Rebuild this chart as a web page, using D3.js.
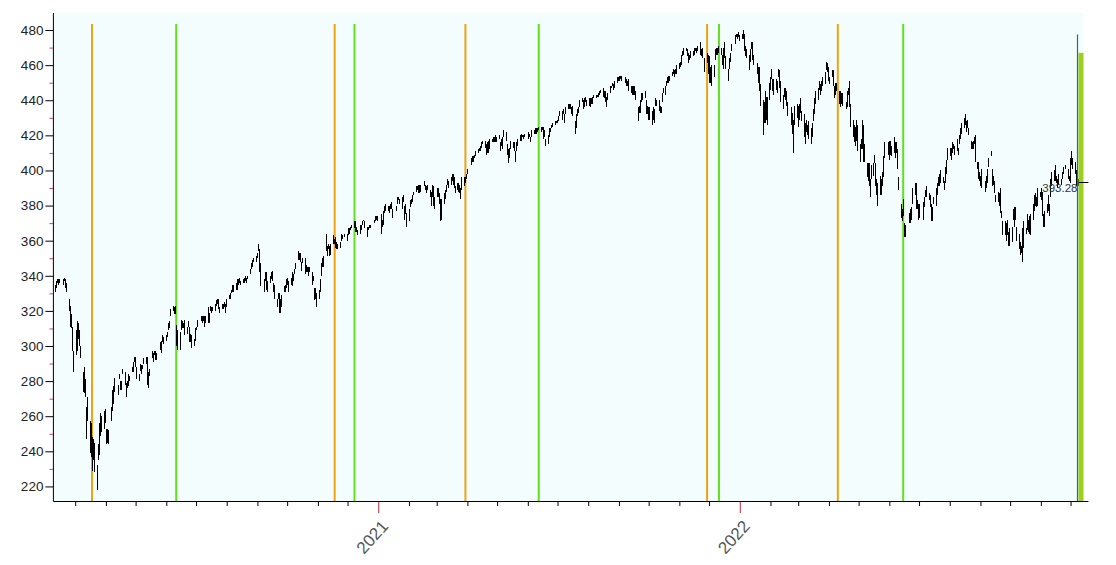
<!DOCTYPE html>
<html><head><meta charset="utf-8">
<script src="https://cdn.jsdelivr.net/npm/d3@7"></script>
<style>body{margin:0;background:#fff}svg{display:block}</style>
</head><body>
<svg id="chart" width="1116" height="565"></svg>
<script>
// Daily [low, high] bars, one line per month
const bars2020 = [
 [331,335],[333,337],[336,338],[335,338],[336,338],[335,338],[337,339],[333,338],[331,336],[320,327],[311,323],[310,318],[297,311],[285,297],
 [295,309],[297,314],[304,313],[300,309],[293,300],[274,285],[273,288],[271,281],[247,265],[257,271],[239,257],[237,256],[229,248],[235,247],[228,245],[218,232],[235,244],[238,256],[249,262],[251,260],[253,263],[256,264],
 [244,253],[245,253],[244,252],[257,265],[263,275],[267,277],[274,282],[272,278],[281,284],[275,280],[275,280],[284,287],[278,285],[271,279],[276,280],[277,284],[280,283],[285,288],[285,291],[291,294],[288,294],
 [281,288],[280,284],[286,290],[284,289],[287,289],[290,293],[290,294],[286,294],[278,288],[276,285],[283,287],[293,297],[291,296],[295,297],[292,297],[292,296],[298,302],[296,303],[302,306],[301,305],
 [303,306],[305,308],[309,313],[310,314],[317,321],[320,323],[318,322],[318,323],[300,312],[298,309],[298,308],[309,315],[310,314],[310,313],[306,315],[307,311],[311,314],[302,311],[302,307],[299,306],[300,304],[303,310],
 [309,311],[311,315],[314,317],[313,317],[314,317],[311,317],[313,317],[313,322],[313,319],[320,323],[319,322],[320,322],[320,324],[323,326],[324,327],[321,327],[319,322],[321,324],[321,324],[322,325],[319,324],[322,327],
 [327,329],[327,330],[330,332],[331,335],[331,335],[332,336],[332,338],[335,338],[336,339],[335,337],[336,338],[336,339],[337,340],[336,339],[338,340],[341,343],[341,344],[344,347],[345,349],[348,350],[348,351],
 [350,353],[354,358],[342,355],[334,347],[331,338],[337,342],[332,342],[331,337],[336,340],[338,342],[337,343],[331,336],[327,335],[322,327],[327,330],[319,330],[319,327],[322,329],[331,334],[331,335],[333,338],
 [335,339],[331,337],[335,339],[334,342],[337,341],[341,344],[344,347],[349,354],[349,353],[348,353],[343,348],[347,350],[341,350],[342,346],[342,345],[340,345],[342,345],[335,342],[337,340],[326,333],[327,333],[322,330],
 [327,332],[331,338],[340,347],[345,350],[345,351],[354,364],[351,357],[355,358],[351,357],[352,358],[358,363],[358,361],[356,362],[355,359],[355,358],[356,359],[360,364],[361,363],[362,364],[360,364],
 [363,367],[364,367],[366,368],[367,369],[368,370],[367,371],[365,371],[365,368],[363,366],[364,369],[366,369],[369,371],[371,372],[367,371],[362,368],[366,368],[367,369],[367,369],[370,372],[371,374],[372,374],[371,374]
];
const bars2021 = [
 [364,375],[368,372],[369,377],[376,380],[377,381],[377,380],[376,380],[378,381],[378,382],[373,378],[377,380],[381,385],[383,385],[381,384],[378,385],[382,386],[372,380],[375,381],[368,376],
 [371,378],[379,383],[381,384],[382,386],[386,388],[388,391],[389,391],[387,392],[387,392],[388,392],[391,394],[389,392],[387,391],[389,392],[385,389],[380,388],[385,392],[380,391],[378,385],
 [385,390],[385,390],[381,387],[371,384],[372,384],[381,387],[384,389],[388,392],[392,395],[390,394],[392,396],[394,398],[392,398],[390,396],[387,391],[389,393],[388,393],[387,392],[384,390],[389,396],[391,396],[393,396],[395,398],
 [398,401],[403,407],[405,408],[405,408],[407,409],[408,411],[410,412],[411,413],[411,414],[413,416],[415,417],[413,417],[409,415],[410,416],[410,417],[412,418],[416,418],[416,419],[416,419],[416,420],[416,419],
 [418,420],[411,416],[414,418],[412,419],[419,423],[417,422],[409,415],[404,412],[407,413],[412,417],[413,416],[411,416],[405,411],[411,416],[414,418],[417,420],[417,421],[419,420],[418,420],[419,421],
 [418,422],[419,421],[416,419],[419,423],[421,423],[421,424],[421,424],[422,424],[423,425],[422,425],[423,425],[418,425],[419,423],[414,418],[415,420],[419,424],[422,424],[424,426],[425,427],[426,428],[427,428],[427,429],
 [428,431],[431,434],[429,434],[432,435],[427,432],[432,436],[435,438],[435,438],[435,438],[432,436],[431,437],[421,428],[424,432],[431,435],[433,436],[436,440],[439,441],[435,440],[436,441],[439,442],[437,440],
 [437,441],[436,441],[438,441],[438,442],[441,443],[441,443],[442,443],[442,444],[443,445],[444,446],[442,447],[441,445],[439,445],[436,442],[440,444],[444,448],[447,448],[448,450],[446,449],[447,451],[450,453],[451,453],
 [451,454],[452,454],[451,454],[450,453],[448,452],[448,451],[445,452],[444,448],[443,448],[443,448],[443,448],[440,445],[428,436],[433,437],[433,440],[439,444],[440,444],[441,445],[432,440],[432,437],[429,436],
 [429,436],[426,434],[429,436],[427,435],[437,441],[437,440],[434,440],[433,437],[433,436],[439,444],[444,447],[443,448],[448,451],[450,453],[450,454],[451,454],[454,456],[455,458],[453,457],[455,458],[455,460],
 [458,461],[459,462],[460,466],[465,468],[466,470],[468,470],[465,469],[461,467],[463,466],[464,468],[465,468],[466,470],[468,470],[467,470],[468,471],[466,473],[465,469],[464,470],[456,464],[461,467],[455,466],
 [450,465],[450,459],[448,460],[453,460],[463,469],[466,470],[466,470],[467,471],[466,470],[460,466],[458,470],[464,473],[458,465],[451,458],[458,464],[462,467],[468,472],[472,477],[476,478],[475,478],[476,479],[474,477]
];
const bars2022 = [
 [475,478],[475,480],[468,478],[465,471],[464,469],[457,466],[462,469],[469,473],[463,473],[460,466],[455,461],[450,459],[445,459],[437,449],[420,440],[427,439],[427,445],[429,442],[426,442],[440,450],
 [446,453],[452,458],[445,452],[443,452],[446,452],[444,451],[453,458],[447,457],[439,451],[435,443],[442,447],[440,447],[437,445],[431,439],[426,436],[421,433],[410,429],[426,437],[430,438],
 [425,437],[429,438],[433,441],[428,434],[419,432],[415,427],[422,429],[420,426],[418,428],[415,424],[419,427],[428,435],[432,441],[438,445],[440,447],[446,451],[443,449],[445,451],[448,453],[449,456],[457,462],[456,461],[451,459],
 [449,453],[453,457],[448,457],[441,448],[443,450],[445,450],[438,445],[436,445],[438,444],[437,444],[435,439],[436,445],[443,447],[436,451],[425,438],[419,429],[416,426],[414,425],[417,429],[411,426],
 [405,415],[412,418],[412,429],[405,426],[405,415],[396,404],[394,404],[391,404],[385,395],[395,403],[397,404],[404,409],[391,404],[386,395],[380,393],[386,397],[386,395],[391,399],[396,408],[407,416],[409,416],
 [406,417],[409,417],[408,414],[410,419],[407,416],[410,416],[401,412],[389,396],[373,381],[371,378],[374,384],[362,370],[362,369],[370,376],[370,378],[372,379],[381,390],[386,393],[378,393],[378,383],[372,381],
 [373,381],[372,382],[379,385],[385,389],[385,391],[383,387],[379,386],[371,381],[371,379],[381,385],[380,390],[386,393],[391,396],[391,398],[393,400],[393,396],[389,394],[393,402],[398,406],[406,413],
 [408,413],[406,413],[410,416],[412,415],[409,414],[411,418],[409,413],[415,420],[418,424],[421,427],[424,430],[426,432],[422,428],[424,429],[420,424],[412,417],[412,416],[412,417],[415,419],[405,420],[401,405],[395,405],[394,399],
 [391,397],[390,401],[388,394],[390,397],[393,401],[402,407],[408,411],[391,401],[392,397],[387,394],[382,386],[382,388],[380,387],[376,390],[373,377],[363,371],[363,371],[360,370],[363,372],[357,365],[357,367],
 [359,368],[372,378],[368,379],[372,379],[360,368],[355,364],[352,359],[353,357],[348,367],[356,371],[364,367],[366,375],[365,372],[364,374],[363,375],[372,381],[377,386],[380,387],[379,385],[380,390],[385,388],
 [383,390],[374,388],[368,375],[368,377],[376,381],[377,386],[374,381],[385,395],[391,399],[394,400],[394,403],[393,397],[390,395],[392,398],[392,395],[395,399],[398,402],[401,403],[395,401],[394,397],[393,407],
 [403,411],[401,407],[398,405],[391,400],[391,395],[391,395]
];
const yearStarts = ["2020-02-10", "2021-01-04", "2022-01-03"];
const holidays = ["2020-02-17","2020-04-10","2020-05-25","2020-07-03","2020-09-07","2020-11-26","2020-12-25",
 "2021-01-01","2021-01-18","2021-02-15","2021-04-02","2021-05-31","2021-07-05","2021-09-06","2021-11-25","2021-12-24",
 "2022-01-17","2022-02-21","2022-04-15","2022-05-30","2022-06-20","2022-07-04","2022-09-05","2022-11-24"];
const orangeDates = ["2020-03-18","2020-11-18","2021-03-30","2021-11-29","2022-04-10"];
const greenDates = ["2020-06-11","2020-12-08","2021-06-12","2021-12-11","2022-06-15"];
const yTickValues = [220,240,260,280,300,320,340,360,380,400,420,440,460,480];
const yMinorValues = [230,250,270,290,310,330,350,370,390,410,430,450,470];
const yearTickDates = ["2021-01-01","2022-01-01"];
const yearLabels = ["2021","2022"];
const lastPrice = 393.28;
const signalStart = "2022-12-09", signalEnd = "2022-12-14", signalTop = 467;
const xDomain = ["2020-02-08","2022-12-19"];
const yDomain = [211.7, 489.7];

const parse = d3.utcParse("%Y-%m-%d");
const fmt = d3.utcFormat("%Y-%m-%d");
const hol = new Set(holidays);
function tradingDays(start, n) {
  const out = []; let d = parse(start);
  while (out.length < n) {
    const wd = d.getUTCDay();
    if (wd !== 0 && wd !== 6 && !hol.has(fmt(d))) out.push(d);
    d = d3.utcDay.offset(d, 1);
  }
  return out;
}
const data = [];
[bars2020, bars2021, bars2022].forEach((arr, i) => {
  const days = tradingDays(yearStarts[i], arr.length);
  arr.forEach((b, j) => data.push({date: days[j], lo: b[0], hi: b[1]}));
});

const L = 53.4, R = 1088.4, T = 13, B = 501;
const x = d3.scaleUtc().domain(xDomain.map(parse)).range([L, R]);
const y = d3.scaleLinear().domain(yDomain).range([B, T]);

const svg = d3.select("#chart");
const lastDate = data[data.length - 1].date;

// plot background
svg.append("rect").attr("x", L).attr("y", T).attr("width", x(parse(signalEnd)) - L).attr("height", B - T).attr("fill", "#f3fdfd");

// event lines
const ev = svg.append("g");
ev.selectAll(".o").data(orangeDates).join("line")
  .attr("x1", d => x(parse(d))).attr("x2", d => x(parse(d)))
  .attr("y1", y(483.5)).attr("y2", B).attr("stroke", "#f0a30f").attr("stroke-width", 2);
ev.selectAll(".g").data(greenDates).join("line")
  .attr("x1", d => x(parse(d))).attr("x2", d => x(parse(d)))
  .attr("y1", y(483.5)).attr("y2", B).attr("stroke", "#62e01e").attr("stroke-width", 2);

// price bars
svg.append("g").selectAll("line").data(data).join("line")
  .attr("x1", d => Math.round(x(d.date)) + 0.5).attr("x2", d => Math.round(x(d.date)) + 0.5)
  .attr("y1", d => y(d.hi)).attr("y2", d => y(d.lo))
  .attr("stroke", "#000").attr("stroke-width", 1).attr("shape-rendering", "crispEdges");

// signal bar at the right
svg.append("rect").attr("x", x(parse(signalStart))).attr("y", y(signalTop))
  .attr("width", x(parse(signalEnd)) - x(parse(signalStart))).attr("height", B - y(signalTop))
  .attr("fill", "#9dcf1c");
svg.append("line").attr("x1", x(lastDate)).attr("x2", x(lastDate))
  .attr("y1", y(477.5)).attr("y2", B).attr("stroke", "#1d7272").attr("stroke-width", 1.2);

// last price marker
svg.append("line").attr("x1", x(lastDate) + 1).attr("x2", R).attr("y1", Math.round(y(lastPrice)) + 0.5).attr("y2", Math.round(y(lastPrice)) + 0.5)
  .attr("stroke", "#000").attr("stroke-width", 1);
svg.append("text").attr("x", x(lastDate)).attr("y", y(lastPrice) + 10).attr("text-anchor", "end")
  .attr("font-family", "Liberation Sans, Arial, sans-serif").attr("font-size", 11.5).attr("fill", "#333").text(lastPrice.toFixed(2));

// y axis
const yAxis = d3.axisLeft(y).tickValues(yTickValues).tickSize(8).tickPadding(2).tickFormat(d3.format("d"));
const gy = svg.append("g").attr("transform", `translate(${L},0)`).call(yAxis);
gy.select(".domain").remove();
gy.selectAll(".tick line").attr("stroke", "#000");
gy.selectAll(".tick text").attr("font-family", "Liberation Sans, Arial, sans-serif").attr("font-size", 13.5).attr("fill", "#222");
svg.append("g").attr("transform", `translate(${L},0)`).call(d3.axisLeft(y).tickValues(yMinorValues).tickSize(4).tickFormat(""))
  .call(g => { g.select(".domain").remove(); g.selectAll(".tick line").attr("stroke", "#c4506a"); });
svg.append("line").attr("x1", L).attr("x2", L).attr("y1", T).attr("y2", B + 0.5).attr("stroke", "#000");

// x axis
const monthTicks = d3.utcMonth.range(parse(xDomain[0]), parse(xDomain[1])).filter(d => d.getUTCMonth() !== 0);
svg.append("g").attr("transform", `translate(0,${B})`)
  .call(d3.axisBottom(x).tickValues(monthTicks).tickSize(5).tickFormat(""))
  .call(g => { g.select(".domain").remove(); g.selectAll(".tick line").attr("stroke", "#000"); });
svg.append("g").attr("transform", `translate(0,${B})`)
  .call(d3.axisBottom(x).tickValues(yearTickDates.map(parse)).tickSize(12).tickFormat(""))
  .call(g => { g.select(".domain").remove(); g.selectAll(".tick line").attr("stroke", "#b8283c"); });
svg.append("line").attr("x1", L).attr("x2", R).attr("y1", B + 0.5).attr("y2", B + 0.5).attr("stroke", "#000");
svg.append("g").selectAll("text").data(yearTickDates).join("text")
  .attr("transform", (d, i) => `translate(${x(parse(d)) + 11},527) rotate(-48)`)
  .attr("text-anchor", "end").attr("font-family", "Liberation Sans, Arial, sans-serif")
  .attr("font-size", 17).attr("fill", "#555").text((d, i) => yearLabels[i]);
</script>
</body></html>
